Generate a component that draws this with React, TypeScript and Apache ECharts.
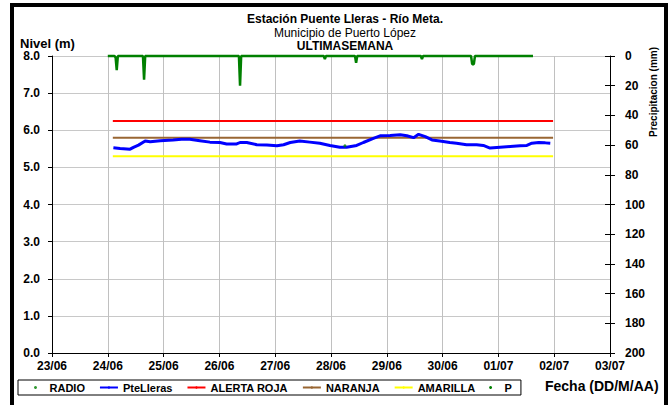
import React, { useEffect, useRef } from "react";
import * as echarts from "echarts";

const FONT = "'Liberation Sans', Arial, sans-serif";

// x axis: days since 23/06 00:00
const xLabels = ["23/06", "24/06", "25/06", "26/06", "27/06", "28/06", "29/06", "30/06", "01/07", "02/07", "03/07"];
const levelTicks = [0, 1, 2, 3, 4, 5, 6, 7, 8];
const precipTicks = [0, 20, 40, 60, 80, 100, 120, 140, 160, 180, 200];

// PteLleras water level (m)
const levelDays = [
  1.10, 1.22, 1.40, 1.46, 1.55, 1.67, 1.76, 1.94, 2.17, 2.32, 2.47, 2.65, 2.83, 3.01, 3.13, 3.31, 3.37, 3.49,
  3.67, 3.85, 4.03, 4.15, 4.27, 4.44, 4.62, 4.80, 4.98, 5.16, 5.28, 5.46, 5.58, 5.76, 5.88, 6.06, 6.24, 6.36,
  6.48, 6.57, 6.69, 6.81, 6.95, 7.13, 7.25, 7.43, 7.61, 7.73, 7.85, 8.03, 8.21, 8.39, 8.51, 8.60, 8.72, 8.84, 8.93,
];
const levelValues = [
  5.53, 5.51, 5.49, 5.54, 5.60, 5.71, 5.69, 5.72, 5.74, 5.76, 5.76, 5.72, 5.68, 5.67, 5.63, 5.63, 5.67, 5.67,
  5.61, 5.60, 5.58, 5.61, 5.67, 5.71, 5.68, 5.65, 5.59, 5.54, 5.54, 5.59, 5.67, 5.78, 5.85, 5.86, 5.88, 5.85,
  5.80, 5.89, 5.83, 5.74, 5.71, 5.67, 5.65, 5.61, 5.61, 5.59, 5.52, 5.54, 5.56, 5.58, 5.59, 5.65, 5.67, 5.66, 5.65,
];

// Precipitation P (mm)
const precipDays = [
  1.00, 1.12, 1.14, 1.16, 1.18, 1.63, 1.65, 1.67, 3.35, 3.37, 3.39, 4.87, 4.89, 4.91, 5.43, 5.45, 5.47,
  6.61, 6.63, 6.65, 7.51, 7.53, 7.56, 7.58, 8.62,
];
const precipValues = [
  0, 0, 1, 9.6, 0, 0, 16, 0, 0, 20, 0, 0, 2, 0, 0, 4.5, 0,
  0, 2, 0, 0, 5.5, 5.5, 0, 0,
];

// RADIO reading
const radioDays = [5.25];
const radioValues = [5.58];

// Alert thresholds (m)
const thresholdStart = 1.09;
const thresholdEnd = 8.98;
const alertaRoja = 6.25;
const naranja = 5.8;
const amarilla = 5.3;

const seriesNames = ["RADIO", "PteLleras", "ALERTA ROJA", "NARANJA", "AMARILLA", "P"];

function pairs(xs: number[], ys: number[]) {
  return xs.map((x, i) => [x, ys[i]]);
}
function flat(v: number) {
  return [[thresholdStart, v], [thresholdEnd, v]];
}

export default function App() {
  const ref = useRef<HTMLDivElement>(null);
  useEffect(() => {
    if (!ref.current) return;
    const chart = echarts.init(ref.current, null, { renderer: "svg" });
    const axisText = { fontFamily: FONT, fontSize: 12, fontWeight: "bold", color: "#000" };
    const option: any = {
      animation: false,
      backgroundColor: "#fff",
      grid: { left: 52, top: 56, width: 558, height: 297, containLabel: false },
      xAxis: {
        type: "value",
        min: 0,
        max: xLabels.length - 1,
        interval: 1,
        axisLine: { show: true, lineStyle: { color: "#000", width: 1 } },
        axisTick: { show: true, length: 4, lineStyle: { color: "#000" } },
        axisLabel: { ...axisText, margin: 7, formatter: (v: number) => xLabels[Math.round(v)] ?? "" },
        splitLine: { show: true, lineStyle: { color: "#c0c0c0", width: 1 } },
      },
      yAxis: [
        {
          type: "value",
          position: "left",
          min: levelTicks[0],
          max: levelTicks[levelTicks.length - 1],
          interval: 1,
          axisLine: { show: true, lineStyle: { color: "#000" } },
          axisTick: { show: true, length: 4, lineStyle: { color: "#000" } },
          axisLabel: { ...axisText, margin: 12, formatter: (v: number) => v.toFixed(1) },
          splitLine: { show: true, lineStyle: { color: "#c8c8c8", width: 1 } },
        },
        {
          type: "value",
          position: "right",
          inverse: true,
          min: precipTicks[0],
          max: precipTicks[precipTicks.length - 1],
          interval: 20,
          axisLine: { show: true, lineStyle: { color: "#000" } },
          axisTick: { show: true, length: 5, lineStyle: { color: "#000" } },
          axisLabel: { ...axisText, margin: 15, align: "left" },
          splitLine: { show: false },
        },
        {
          type: "value",
          position: "right",
          inverse: true,
          min: 0,
          max: 200,
          interval: 20,
          axisLine: { show: false },
          axisTick: { show: true, inside: true, length: 5, lineStyle: { color: "#000" } },
          axisLabel: { show: false },
          splitLine: { show: false },
        },
      ],
      legend: {
        left: 18,
        top: 380,
        orient: "horizontal",
        itemWidth: 18,
        itemHeight: 3,
        itemGap: 14,
        padding: [2, 9, 2, 16],
        borderColor: "#000",
        borderWidth: 1,
        selectedMode: false,
        textStyle: { fontFamily: FONT, fontSize: 11, fontWeight: "bold", color: "#000" },
        data: [
          { name: "RADIO", icon: "circle" },
          "PteLleras",
          "ALERTA ROJA",
          "NARANJA",
          "AMARILLA",
          { name: "P", icon: "circle" },
        ],
      },
      series: [
        {
          name: seriesNames[0],
          type: "scatter",
          yAxisIndex: 0,
          symbolSize: 3,
          itemStyle: { color: "#008000" },
          data: pairs(radioDays, radioValues),
          z: 5,
        },
        {
          name: seriesNames[1],
          type: "line",
          yAxisIndex: 0,
          symbol: "none",
          lineStyle: { color: "#0000ff", width: 3 },
          itemStyle: { color: "#0000ff" },
          data: pairs(levelDays, levelValues),
          z: 4,
        },
        {
          name: seriesNames[2],
          type: "line",
          yAxisIndex: 0,
          symbol: "none",
          lineStyle: { color: "#ff0000", width: 2 },
          itemStyle: { color: "#ff0000" },
          data: flat(alertaRoja),
          z: 3,
        },
        {
          name: seriesNames[3],
          type: "line",
          yAxisIndex: 0,
          symbol: "none",
          lineStyle: { color: "#996633", width: 2 },
          itemStyle: { color: "#996633" },
          data: flat(naranja),
          z: 3,
        },
        {
          name: seriesNames[4],
          type: "line",
          yAxisIndex: 0,
          symbol: "none",
          lineStyle: { color: "#ffff00", width: 2 },
          itemStyle: { color: "#ffff00" },
          data: flat(amarilla),
          z: 3,
        },
        {
          name: seriesNames[5],
          type: "line",
          yAxisIndex: 1,
          symbol: "none",
          clip: false,
          lineStyle: { color: "#008000", width: 2.5 },
          itemStyle: { color: "#008000" },
          data: pairs(precipDays, precipValues),
          z: 5,
        },
      ],
      graphic: [
        {
          type: "rect",
          shape: { x: 12, y: 5, width: 654, height: 450 },
          style: { fill: "none", stroke: "#000", lineWidth: 4 },
          silent: true,
        },
        {
          type: "text",
          x: 345,
          y: 19,
          style: { text: "Estación Puente Lleras - Río Meta.", fontFamily: FONT, fontSize: 12, fontWeight: "bold", fill: "#000", align: "center", verticalAlign: "middle" },
        },
        {
          type: "text",
          x: 345,
          y: 32.5,
          style: { text: "Municipio de Puerto López", fontFamily: FONT, fontSize: 12, fill: "#000", align: "center", verticalAlign: "middle" },
        },
        {
          type: "text",
          x: 345,
          y: 46,
          style: { text: "ULTIMASEMANA", fontFamily: FONT, fontSize: 12, fontWeight: "bold", fill: "#000", align: "center", verticalAlign: "middle" },
        },
        {
          type: "text",
          x: 20,
          y: 43,
          style: { text: "Nivel (m)", fontFamily: FONT, fontSize: 13, fontWeight: "bold", fill: "#000", align: "left", verticalAlign: "middle" },
        },
        {
          type: "text",
          x: 545,
          y: 386,
          style: { text: "Fecha (DD/M/AA)", fontFamily: FONT, fontSize: 14, fontWeight: "bold", fill: "#000", align: "left", verticalAlign: "middle" },
        },
        {
          type: "text",
          x: 653,
          y: 92,
          rotation: Math.PI / 2,
          style: { text: "Precipitacion (mm)", fontFamily: FONT, fontSize: 10, fontWeight: "bold", fill: "#000", align: "center", verticalAlign: "middle" },
        },
      ],
    };
    chart.setOption(option);
    return () => chart.dispose();
  }, []);
  return (
    <div
      ref={ref}
      style={{ position: "fixed", left: 0, top: 0, width: 669, height: 405, overflow: "hidden", background: "#fff" }}
    />
  );
}
